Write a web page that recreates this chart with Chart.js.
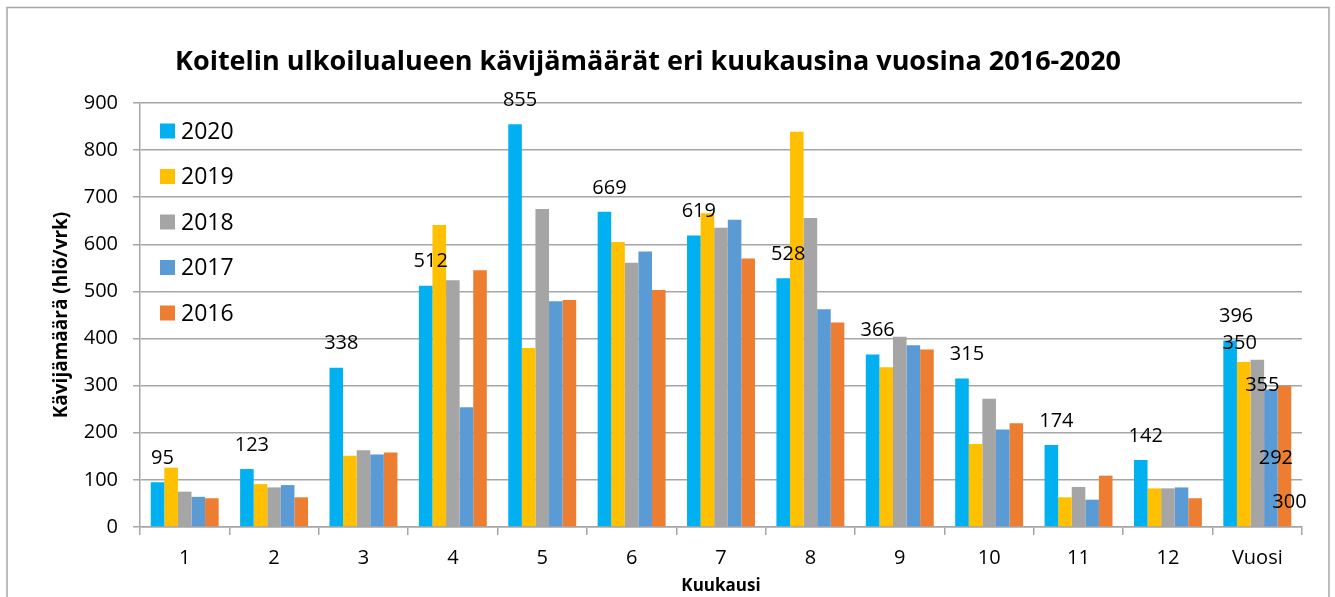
<!DOCTYPE html>
<html>
<head>
<meta charset="utf-8">
<script src="https://cdn.jsdelivr.net/npm/chart.js@4/dist/chart.umd.min.js"></script>
<style>
  html, body { margin: 0; padding: 0; background: #fff; overflow: hidden; }
  #wrap { position: relative; width: 1335px; height: 597px; }
</style>
</head>
<body>
<div id="wrap"><canvas id="chart"></canvas></div>
<script>
const FONT = '"Open Sans", "Noto Sans", sans-serif';

const categories = ['1', '2', '3', '4', '5', '6', '7', '8', '9', '10', '11', '12', 'Vuosi'];
const yearLabels = ['2020', '2019', '2018', '2017', '2016'];
const yearColors = ['#00B0F0', '#FFC000', '#A5A5A5', '#5B9BD5', '#ED7D31'];

const v2020 = [95, 123, 338, 512, 855, 669, 619, 528, 366, 315, 174, 142, 396];
const v2019 = [126, 91, 151, 641, 380, 605, 666, 839, 339, 176, 63, 82, 350];
const v2018 = [75, 84, 163, 524, 675, 561, 635, 656, 404, 272, 85, 82, 355];
const v2017 = [64, 89, 154, 254, 479, 585, 652, 462, 386, 207, 58, 84, 292];
const v2016 = [61, 63, 158, 545, 482, 503, 570, 434, 377, 220, 109, 61, 300];

const yTicks = [0, 100, 200, 300, 400, 500, 600, 700, 800, 900];

// which points get a value label, per series (index into categories)
const labelled = [
  [0, 1, 2, 3, 4, 5, 6, 7, 8, 9, 10, 11, 12],
  [12], [12], [12], [12]
];
// label nudges (px) for the Vuosi group, Excel had them moved by hand
const vuosiNudge = [[6, -24], [-4, -19], [5, 26], [5, 69], [5, 117]];

const seriesValues = [v2020, v2019, v2018, v2017, v2016];

const datasets = seriesValues.map((vals, i) => ({
  label: yearLabels[i],
  data: vals,
  backgroundColor: yearColors[i],
  borderWidth: 0,
  categoryPercentage: 0.76,
  barPercentage: 1.0
}));

const framePlugin = {
  id: 'frame',
  beforeDraw(chart) {
    const ctx = chart.ctx;
    ctx.save();
    ctx.fillStyle = '#fff';
    ctx.fillRect(0, 0, chart.width, chart.height);
    ctx.strokeStyle = '#a6a6a6';
    ctx.lineWidth = 1.5;
    ctx.strokeRect(7, 7.5, 1322, 620);
    ctx.fillStyle = '#000';
    ctx.font = 'bold 27px ' + FONT;
    ctx.textAlign = 'center';
    ctx.textBaseline = 'middle';
    ctx.fillText('Koitelin ulkoilualueen kävijämäärät eri kuukausina vuosina 2016-2020', 648, 62);
    ctx.restore();
  }
};

const legendPlugin = {
  id: 'innerLegend',
  afterDatasetsDraw(chart) {
    const ctx = chart.ctx;
    ctx.save();
    ctx.font = '23px ' + FONT;
    ctx.textBaseline = 'middle';
    ctx.textAlign = 'left';
    yearLabels.forEach((lab, i) => {
      const y = 131 + i * 45.5;
      ctx.fillStyle = yearColors[i];
      ctx.fillRect(160, y - 7.5, 15, 15);
      ctx.fillStyle = '#000';
      ctx.fillText(lab, 181, y + 1);
    });
    ctx.restore();
  }
};

const valueLabelPlugin = {
  id: 'valueLabels',
  afterDatasetsDraw(chart) {
    const ctx = chart.ctx;
    ctx.save();
    ctx.font = '20px ' + FONT;
    ctx.fillStyle = '#000';
    ctx.textAlign = 'center';
    ctx.textBaseline = 'middle';
    chart.data.datasets.forEach((ds, di) => {
      const meta = chart.getDatasetMeta(di);
      labelled[di].forEach(idx => {
        const bar = meta.data[idx];
        let dx = 5, dy = -24;
        if (idx === 12) { dx = vuosiNudge[di][0]; dy = vuosiNudge[di][1]; }
        ctx.fillText(String(ds.data[idx]), bar.x + dx, bar.y + dy);
      });
    });
    ctx.restore();
  }
};

new Chart(document.getElementById('chart'), {
  type: 'bar',
  data: { labels: categories, datasets: datasets },
  plugins: [framePlugin, legendPlugin, valueLabelPlugin],
  options: {
    responsive: true,
    maintainAspectRatio: false,
    animation: false,
    layout: { padding: { top: 103, left: 48, right: 33, bottom: 0 } },
    plugins: {
      legend: { display: false },
      tooltip: { enabled: false },
      title: { display: false }
    },
    scales: {
      x: {
        grid: {
          offset: true,
          drawOnChartArea: false,
          color: '#a6a6a6',
          lineWidth: 1.5,
          tickLength: 8
        },
        border: { color: '#a6a6a6', width: 1.5 },
        ticks: { color: '#000', font: { family: FONT, size: 20 }, padding: 11, maxRotation: 0 },
        title: {
          display: true,
          text: 'Kuukausi',
          color: '#000',
          font: { family: FONT, size: 17, weight: 'bold' },
          padding: { top: 0, bottom: 1 }
        },
        afterFit(scale) { scale.height = 597 - 527; }
      },
      y: {
        min: 0,
        max: 900,
        afterBuildTicks(scale) { scale.ticks = yTicks.map(v => ({ value: v })); },
        grid: { color: '#a6a6a6', lineWidth: 1.5, tickLength: 7 },
        border: { color: '#a6a6a6', width: 1.5 },
        ticks: { color: '#000', font: { family: FONT, size: 20 }, padding: 15 },
        title: {
          display: true,
          text: 'Kävijämäärä (hlö/vrk)',
          color: '#000',
          font: { family: FONT, size: 19, weight: 'bold' },
          padding: { top: 2, bottom: 0 }
        },
        afterFit(scale) { scale.width = 140 - 48; }
      }
    }
  }
});
</script>
</body>
</html>
